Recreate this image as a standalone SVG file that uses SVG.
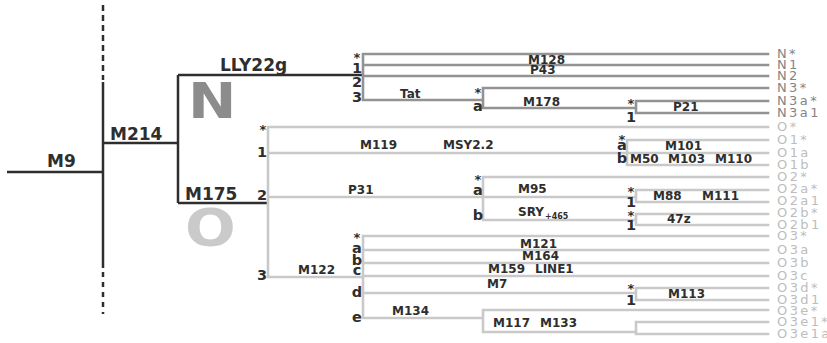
<svg xmlns="http://www.w3.org/2000/svg" width="827" height="343" viewBox="0 0 827 343">
<style>
.dk{stroke:#2e2e2e;stroke-width:2.5;fill:none}
.dkd{stroke:#2e2e2e;stroke-width:2.5;fill:none;stroke-dasharray:6 4}
.ng{stroke:#939393;stroke-width:2.6;fill:none;stroke-linecap:square}
.og{stroke:#c9c9c9;stroke-width:2.6;fill:none;stroke-linecap:square}
text{font-family:"DejaVu Sans","Liberation Sans",sans-serif}
.lg{font-size:17px;font-weight:bold;fill:#2e2e2e}
.sm{font-size:12px;font-weight:bold;fill:#2e2e2e}
.sub{font-size:8px;font-weight:bold;fill:#2e2e2e}
.nd{font-size:14.5px;font-weight:bold;fill:#2e2e2e;text-anchor:middle}
.st{font-size:13px;font-weight:bold;fill:#2e2e2e;text-anchor:middle}
.tn{font-size:13px;fill:#858585;letter-spacing:2.4px}
.to{font-size:13px;fill:#bdbdbd;letter-spacing:2.4px}
.bigN{font-size:49px;font-weight:bold;fill:#8c8c8c}
.bigO{font-size:51px;font-weight:bold;fill:#cacaca}
</style>
<g id="connectors">
<path class="dk" d="M7 172 H103 M103 82 V268 M103 143 H178 M178 75 V203 M178 75 H363 M178 203 H268"/>
<path class="dkd" d="M103 5 V80"/>
<path class="dkd" d="M103 272 V314" style="stroke-dasharray:5 5"/>
<path class="ng" d="M363 54 V100 M363 54 H768 M363 65 H768 M363 76 H768 M363 100 H483 M483 88 V108 M483 88 H768 M483 108 H636 M636 101 V113 M636 101 H768 M636 113 H768"/>
<path class="og" d="M268 127 V277 M268 127 H768 M268 153 H627 M627 140 V165 M627 140 H768 M627 153 H768 M627 165 H768 M268 197 H483 M483 177 V220 M483 177 H768 M483 197 H636 M636 190 V202 M636 190 H768 M636 202 H768 M483 220 H636 M636 214 V225 M636 214 H768 M636 225 H768 M268 277 H363 M363 236 V318 M363 236 H768 M363 250 H768 M363 263 H768 M363 276 H768 M363 293 H636 M636 288 V300 M636 288 H768 M636 300 H768 M363 318 H483 M483 310 V332 M483 310 H768 M483 332 H636 M636 322 V334 M636 322 H768 M636 334 H768"/>
</g>
<g id="clade-N"><text class="bigN" transform="translate(188,118) scale(1.18,1)">N</text></g>
<g id="clade-O"><text class="bigO" transform="translate(185,246) scale(1.17,1)">O</text></g>
<g id="branch-labels">
<text class="lg" x="47" y="167">M9</text>
<text class="lg" x="110" y="140">M214</text>
<text class="lg" x="220" y="71">LLY22g</text>
<text class="lg" x="185" y="200">M175</text>
<text class="sm" x="400" y="98">Tat</text>
<text class="sm" x="528" y="64">M128</text>
<text class="sm" x="530" y="74">P43</text>
<text class="sm" x="523" y="106">M178</text>
<text class="sm" x="673" y="111">P21</text>
<text class="sm" x="360" y="149">M119</text>
<text class="sm" x="443" y="149">MSY2.2</text>
<text class="sm" x="665" y="150">M101</text>
<text class="sm" x="630" y="163">M50</text>
<text class="sm" x="668" y="163">M103</text>
<text class="sm" x="715" y="163">M110</text>
<text class="sm" x="348" y="194">P31</text>
<text class="sm" x="518" y="193">M95</text>
<text class="sm" x="653" y="200">M88</text>
<text class="sm" x="702" y="200">M111</text>
<text class="sm" x="518" y="216">SRY</text><text class="sub" x="545" y="219">+465</text>
<text class="sm" x="667" y="223">47z</text>
<text class="sm" x="298" y="274">M122</text>
<text class="sm" x="520" y="248">M121</text>
<text class="sm" x="522" y="260">M164</text>
<text class="sm" x="488" y="273">M159</text>
<text class="sm" x="535" y="273">LINE1</text>
<text class="sm" x="487" y="288">M7</text>
<text class="sm" x="668" y="298">M113</text>
<text class="sm" x="392" y="315">M134</text>
<text class="sm" x="493" y="327">M117</text>
<text class="sm" x="540" y="327">M133</text>
</g>
<g id="node-labels">
<text class="st" x="357" y="62">*</text>
<text class="nd" x="357" y="73">1</text>
<text class="nd" x="357" y="87">2</text>
<text class="nd" x="357" y="102">3</text>
<text class="st" x="478" y="97">*</text>
<text class="nd" x="478" y="111">a</text>
<text class="st" x="631" y="108">*</text>
<text class="nd" x="631" y="122">1</text>
<text class="st" x="263" y="134">*</text>
<text class="nd" x="262" y="157">1</text>
<text class="nd" x="262" y="200">2</text>
<text class="nd" x="262" y="280">3</text>
<text class="st" x="622" y="144">*</text>
<text class="nd" x="622" y="150">a</text>
<text class="nd" x="622" y="163">b</text>
<text class="st" x="478" y="184">*</text>
<text class="nd" x="478" y="195">a</text>
<text class="nd" x="478" y="220">b</text>
<text class="st" x="631" y="196">*</text>
<text class="nd" x="631" y="207">1</text>
<text class="st" x="631" y="220">*</text>
<text class="nd" x="631" y="230">1</text>
<text class="st" x="357" y="242">*</text>
<text class="nd" x="357" y="253">a</text>
<text class="nd" x="357" y="265">b</text>
<text class="nd" x="357" y="275">c</text>
<text class="nd" x="357" y="297">d</text>
<text class="nd" x="357" y="322">e</text>
<text class="st" x="631" y="293">*</text>
<text class="nd" x="631" y="305">1</text>
</g>
<g id="tips">
<text class="tn" x="777" y="58">N*</text>
<text class="tn" x="777" y="69">N1</text>
<text class="tn" x="777" y="80">N2</text>
<text class="tn" x="777" y="92">N3*</text>
<text class="tn" x="777" y="105">N3a*</text>
<text class="tn" x="777" y="117">N3a1</text>
<text class="to" x="777" y="131">O*</text>
<text class="to" x="777" y="144">O1*</text>
<text class="to" x="777" y="157">O1a</text>
<text class="to" x="777" y="169">O1b</text>
<text class="to" x="777" y="181">O2*</text>
<text class="to" x="777" y="193">O2a*</text>
<text class="to" x="777" y="205">O2a1</text>
<text class="to" x="777" y="217">O2b*</text>
<text class="to" x="777" y="229">O2b1</text>
<text class="to" x="777" y="240">O3*</text>
<text class="to" x="777" y="254">O3a</text>
<text class="to" x="777" y="267">O3b</text>
<text class="to" x="777" y="280">O3c</text>
<text class="to" x="777" y="292">O3d*</text>
<text class="to" x="777" y="304">O3d1</text>
<text class="to" x="777" y="315">O3e*</text>
<text class="to" x="777" y="326">O3e1*</text>
<text class="to" x="777" y="338">O3e1a</text>
</g>
</svg>
